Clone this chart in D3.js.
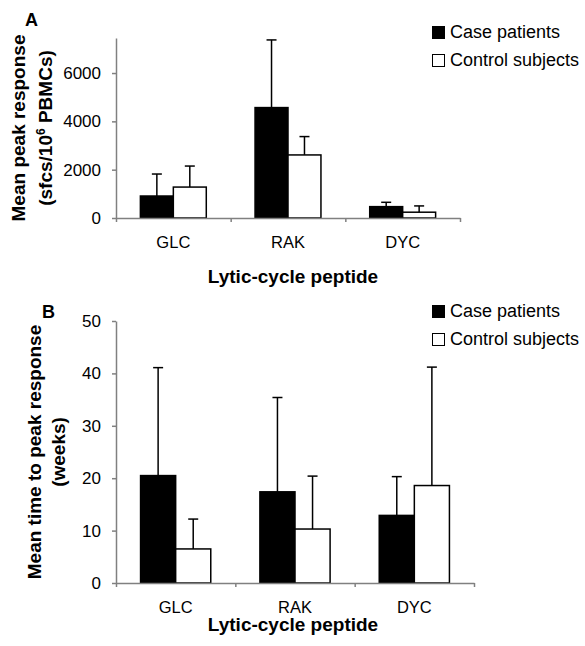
<!DOCTYPE html>
<html>
<head>
<meta charset="utf-8">
<script src="https://cdn.jsdelivr.net/npm/d3@7"></script>
<style>
  body { margin: 0; background: #fff; }
  svg { font-family: Arial, "Liberation Sans", sans-serif; }
  .axis path, .axis line { stroke: #808080; stroke-width: 1.5; }
  .tick text { fill: #000; }
</style>
</head>
<body>
<div id="chart"></div>
<script>
// peptides on the x axis
const categories = ["GLC", "RAK", "DYC"];
const groups = ["Case patients", "Control subjects"];

// panel A: mean peak response (sfcs/10^6 PBMCs), with SD
const peakCase = [910, 4570, 470];
const peakCaseSD = [910, 2800, 180];
const peakControl = [1280, 2610, 240];
const peakControlSD = [870, 760, 260];
const peakTicks = [0, 2000, 4000, 6000];

// panel B: mean time to peak response (weeks), with SD
const weeksCase = [20.5, 17.4, 12.9];
const weeksCaseSD = [20.6, 18.0, 7.4];
const weeksControl = [6.5, 10.3, 18.6];
const weeksControlSD = [5.7, 10.1, 22.6];
const weeksTicks = [0, 10, 20, 30, 40, 50];

const svg = d3.select("#chart").append("svg")
    .attr("width", 585)
    .attr("height", 646);

function drawPanel(opt) {
    const x0 = d3.scaleBand().domain(categories).range([opt.left, opt.right]);
    const x1 = d3.scaleBand().domain(groups).range([0, x0.bandwidth()])
        .paddingInner(0).paddingOuter(opt.outer);
    const xLin = d3.scaleLinear().domain([0, categories.length]).range([opt.left, opt.right]);
    const y = d3.scaleLinear().domain([0, opt.max]).range([opt.bottom, opt.top]);

    const rows = categories.map((c, i) => ({
        cat: c,
        vals: [
            { g: groups[0], v: opt.caseVals[i], sd: opt.caseSD[i] },
            { g: groups[1], v: opt.ctrlVals[i], sd: opt.ctrlSD[i] }
        ]
    }));

    // bars
    const cat = svg.append("g").selectAll("g")
        .data(rows).enter().append("g")
        .attr("transform", d => `translate(${x0(d.cat)},0)`);

    // error bars (upper only)
    cat.selectAll(".err").data(d => d.vals).enter().append("line")
        .attr("x1", d => x1(d.g) + x1.bandwidth() / 2)
        .attr("x2", d => x1(d.g) + x1.bandwidth() / 2)
        .attr("y1", d => y(d.v))
        .attr("y2", d => y(d.v + d.sd))
        .attr("stroke", "#000").attr("stroke-width", 1.5);
    cat.selectAll(".cap").data(d => d.vals).enter().append("line")
        .attr("x1", d => x1(d.g) + x1.bandwidth() / 2 - 5)
        .attr("x2", d => x1(d.g) + x1.bandwidth() / 2 + 5)
        .attr("y1", d => y(d.v + d.sd))
        .attr("y2", d => y(d.v + d.sd))
        .attr("stroke", "#000").attr("stroke-width", 1.5);

    cat.selectAll("rect").data(d => d.vals).enter().append("rect")
        .attr("x", d => x1(d.g))
        .attr("y", d => y(d.v))
        .attr("width", x1.bandwidth())
        .attr("height", d => y(0) - y(d.v))
        .attr("fill", d => d.g === groups[0] ? "#000" : "#fff")
        .attr("stroke", "#000").attr("stroke-width", 1.5);

    // y axis
    svg.append("g").attr("class", "axis")
        .attr("transform", `translate(${opt.left},0)`)
        .call(d3.axisLeft(y).tickValues(opt.ticks).tickFormat(d3.format("d"))
            .tickSize(4).tickSizeOuter(0).tickPadding(11))
        .selectAll("text").style("font-size", "17px");

    // x axis line with ticks at category boundaries
    svg.append("g").attr("class", "axis")
        .attr("transform", `translate(0,${opt.bottom})`)
        .call(d3.axisBottom(xLin).tickValues([0, 1, 2, 3]).tickFormat("").tickSize(4).tickSizeOuter(0));

    // category labels
    const lab = svg.append("g").attr("class", "axis")
        .attr("transform", `translate(0,${opt.bottom})`)
        .call(d3.axisBottom(x0).tickSize(0).tickPadding(18));
    lab.select(".domain").remove();
    lab.selectAll("text").style("font-size", "16.5px");

    // x title
    svg.append("text")
        .attr("x", 293).attr("y", opt.xTitleY)
        .attr("text-anchor", "middle")
        .style("font-size", "19px").style("font-weight", "bold")
        .text("Lytic-cycle peptide");

    // y title, two lines
    const yc = (opt.top + opt.bottom) / 2;
    svg.append("text")
        .attr("transform", `translate(${opt.yTitleX[0]},${yc}) rotate(-90)`)
        .attr("text-anchor", "middle")
        .style("font-size", "19px").style("font-weight", "bold")
        .text(opt.yTitle1);
    const t2 = svg.append("text")
        .attr("transform", `translate(${opt.yTitleX[1]},${yc}) rotate(-90)`)
        .attr("text-anchor", "middle")
        .style("font-size", "19px").style("font-weight", "bold");
    opt.yTitle2(t2);

    // panel letter
    svg.append("text")
        .attr("x", opt.letterPos[0]).attr("y", opt.letterPos[1])
        .style("font-size", "18px").style("font-weight", "bold")
        .text(opt.letter);

    // legend
    const leg = svg.append("g")
        .attr("transform", `translate(432,${opt.legendY})`);
    groups.forEach((g, i) => {
        leg.append("rect")
            .attr("x", 0.5).attr("y", i * 28 + 0.5)
            .attr("width", 12).attr("height", 12)
            .attr("fill", i === 0 ? "#000" : "#fff")
            .attr("stroke", "#000").attr("stroke-width", 1);
        leg.append("text")
            .attr("x", 18).attr("y", i * 28 + 12)
            .style("font-size", "18px")
            .text(g);
    });
}

drawPanel({
    left: 116, right: 460, top: 38, bottom: 218, max: 7450, outer: 0.74,
    caseVals: peakCase, caseSD: peakCaseSD, ctrlVals: peakControl, ctrlSD: peakControlSD,
    ticks: peakTicks,
    xTitleY: 283,
    yTitleX: [25, 52],
    yTitle1: "Mean peak response",
    yTitle2: t => {
        t.append("tspan").text("(sfcs/10");
        t.append("tspan").attr("dy", -7).style("font-size", "12px").text("6");
        t.append("tspan").attr("dy", 7).text(" PBMCs)");
    },
    letter: "A", letterPos: [25, 26],
    legendY: 26
});

drawPanel({
    left: 116, right: 474, top: 321, bottom: 583, max: 50, outer: 0.70,
    caseVals: weeksCase, caseSD: weeksCaseSD, ctrlVals: weeksControl, ctrlSD: weeksControlSD,
    ticks: weeksTicks,
    xTitleY: 631,
    yTitleX: [41, 65],
    yTitle1: "Mean time to peak response",
    yTitle2: t => t.text("(weeks)"),
    letter: "B", letterPos: [42, 318],
    legendY: 305
});
</script>
</body>
</html>
